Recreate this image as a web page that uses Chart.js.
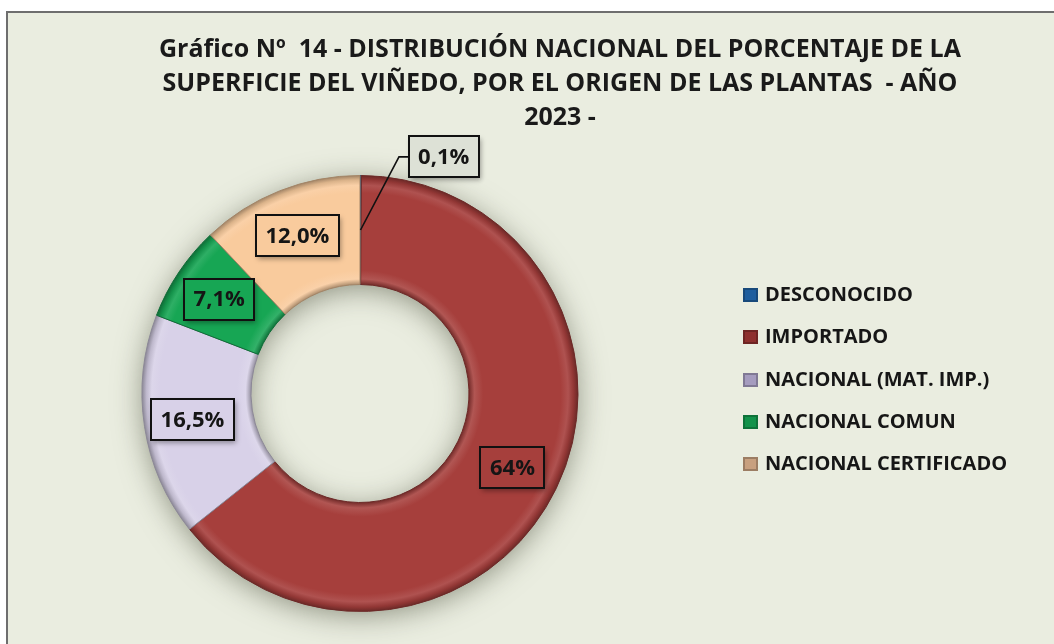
<!DOCTYPE html>
<html lang="es">
<head>
<meta charset="utf-8">
<title>Gráfico Nº 14 - Origen de las plantas 2023</title>
<script src="https://cdn.jsdelivr.net/npm/chart.js@4.4.1/dist/chart.umd.min.js"></script>
<style>
  html, body { margin: 0; padding: 0; background: #ffffff; }
  body { width: 1054px; height: 644px; overflow: hidden; position: relative; font-family: "Open Sans", sans-serif; }
  #marco {
    position: absolute; left: 6px; top: 11px; width: 1100px; height: 700px;
    border-left: 2px solid #6e6e6e; border-top: 2px solid #6e6e6e;
    background: #eaede0;
  }
  #grafico { position: absolute; left: 0; top: 0; }
  #leyenda { position: absolute; left: 743px; top: 273px; }
  #leyenda .fila { height: 42.3px; line-height: 42px; white-space: nowrap; font-weight: 700; font-size: 20px; color: #161616; }
  #leyenda .caja {
    display: inline-block; width: 15px; height: 14px; margin-right: 7px; vertical-align: -1px;
    box-shadow: inset 0 0 0 2px rgba(0, 0, 0, 0.22);
  }
</style>
</head>
<body>
<div id="marco"></div>
<canvas id="grafico" width="1120" height="644"></canvas>
<div id="leyenda"></div>
<script>
  const categorias = ['DESCONOCIDO', 'IMPORTADO', 'NACIONAL (MAT. IMP.)', 'NACIONAL COMUN', 'NACIONAL CERTIFICADO'];
  const porcentajes = [0.1, 64, 16.5, 7.1, 12.0];
  const etiquetas = ['0,1%', '64%', '16,5%', '7,1%', '12,0%'];
  const colores = ['#2166ac', '#a63f3c', '#d8d1e8', '#17a654', '#f9cb9d'];
  const coloresLeyenda = ['#1f5e9e', '#8e302e', '#a59cbf', '#12924a', '#c8a07f'];
  const titulo = [
    'Gráfico Nº  14 - DISTRIBUCIÓN NACIONAL DEL PORCENTAJE DE LA',
    'SUPERFICIE DEL VIÑEDO, POR EL ORIGEN DE LAS PLANTAS  - AÑO',
    '2023 -'
  ];

  // aclara (+) u oscurece (-) un color hex
  function tono(hex, p) {
    const n = parseInt(hex.slice(1), 16);
    let r = n >> 16, g = (n >> 8) & 255, b = n & 255;
    const f = c => Math.round(p < 0 ? c * (1 + p) : c + (255 - c) * p);
    return 'rgb(' + f(r) + ',' + f(g) + ',' + f(b) + ')';
  }

  // relleno con un poco de bisel, de dentro hacia fuera del anillo
  function relleno(ctx) {
    const chart = ctx.chart;
    const base = colores[ctx.dataIndex];
    const ctrl = chart.getDatasetMeta(0).controller;
    const area = chart.chartArea;
    if (!area || !ctrl || !ctrl.outerRadius) return base;
    const cx = (area.left + area.right) / 2, cy = (area.top + area.bottom) / 2;
    const g = chart.ctx.createRadialGradient(cx, cy, ctrl.innerRadius, cx, cy, ctrl.outerRadius);
    g.addColorStop(0, tono(base, -0.3));
    g.addColorStop(0.05, tono(base, 0.12));
    g.addColorStop(0.13, base);
    g.addColorStop(0.84, base);
    g.addColorStop(0.91, tono(base, 0.1));
    g.addColorStop(0.96, tono(base, -0.12));
    g.addColorStop(1, tono(base, -0.35));
    return g;
  }

  // caja vacia a la derecha: deja sitio para la leyenda sin mover el titulo
  const pluginHueco = {
    id: 'hueco',
    beforeInit(chart) {
      Chart.layouts.addBox(chart, {
        position: 'right', weight: 0, fullSize: false, options: {},
        isHorizontal() { return false; },
        update(maxWidth, maxHeight) { this.width = 400; this.height = maxHeight; },
        draw() {}
      });
    }
  };

  const pluginSombra = {
    id: 'sombra',
    beforeDatasetsDraw(chart) {
      const arc = chart.getDatasetMeta(0).data[0];
      if (!arc) return;
      const p = arc.getProps(['x', 'y', 'innerRadius', 'outerRadius'], true);
      const ctx = chart.ctx;
      ctx.save();
      ctx.shadowColor = 'rgba(70, 75, 55, 0.6)';
      ctx.shadowBlur = 30;
      ctx.shadowOffsetY = 5;
      ctx.fillStyle = '#9a9a9a';
      ctx.beginPath();
      ctx.arc(p.x, p.y, p.outerRadius - 2, 0, Math.PI * 2);
      ctx.arc(p.x, p.y, p.innerRadius + 2, 0, Math.PI * 2, true);
      ctx.fill('evenodd');
      ctx.restore();
    }
  };

  const pluginEtiquetas = {
    id: 'etiquetas',
    afterDatasetsDraw(chart) {
      const ctx = chart.ctx;
      const meta = chart.getDatasetMeta(0);
      ctx.save();
      ctx.font = 'bold 22px "Open Sans"';
      ctx.textAlign = 'center';
      ctx.textBaseline = 'middle';
      meta.data.forEach((arc, i) => {
        const p = arc.getProps(['x', 'y', 'startAngle', 'endAngle', 'innerRadius', 'outerRadius'], true);
        const medio = (p.startAngle + p.endAngle) / 2;
        const rMedio = (p.innerRadius + p.outerRadius) / 2;
        const pequeno = porcentajes[i] < 1;
        const ang = pequeno ? medio + 0.337 : medio;
        const r = pequeno ? p.outerRadius + 33 : rMedio + 6;
        const cx = p.x + Math.cos(ang) * r;
        const cy = p.y + Math.sin(ang) * r;
        const texto = etiquetas[i];
        const w = Math.round(ctx.measureText(texto).width + 19);
        const h = 41;
        const x0 = Math.round(cx - w / 2), y0 = Math.round(cy - h / 2);
        if (pequeno) {
          ctx.strokeStyle = '#111';
          ctx.lineWidth = 1.6;
          ctx.beginPath();
          ctx.moveTo(p.x + Math.cos(medio) * rMedio, p.y + Math.sin(medio) * rMedio);
          ctx.lineTo(x0 - 10, cy);
          ctx.lineTo(x0, cy);
          ctx.stroke();
        }
        ctx.save();
        ctx.shadowColor = 'rgba(0, 0, 0, 0.35)';
        ctx.shadowBlur = 5;
        ctx.shadowOffsetX = 2;
        ctx.shadowOffsetY = 3;
        ctx.fillStyle = pequeno ? '#dde1d6' : colores[i];
        ctx.fillRect(x0, y0, w, h);
        ctx.restore();
        ctx.strokeStyle = '#111';
        ctx.lineWidth = 2;
        ctx.strokeRect(x0, y0, w, h);
        ctx.fillStyle = '#151515';
        ctx.fillText(texto, cx, cy + 1);
      });
      ctx.restore();
    }
  };

  const grafico = new Chart(document.getElementById('grafico'), {
    type: 'doughnut',
    data: {
      labels: categorias,
      datasets: [{
        data: porcentajes,
        backgroundColor: relleno,
        borderColor: colores.map(c => tono(c, -0.35)),
        borderWidth: 1,
        hoverOffset: 0
      }]
    },
    options: {
      responsive: false,
      animation: false,
      cutout: '50%',
      layout: { padding: { left: 0, right: 0, top: 0, bottom: 32 } },
      plugins: {
        legend: { display: false },
        tooltip: { enabled: false },
        title: {
          display: true,
          text: titulo,
          color: '#1a1a1a',
          font: { family: 'Open Sans', size: 25, weight: 'bold', lineHeight: 1.36 },
          padding: { top: 33, bottom: 40 }
        }
      }
    },
    plugins: [pluginHueco, pluginSombra, pluginEtiquetas]
  });

  // leyenda con los mismos nombres y colores
  const leyenda = document.getElementById('leyenda');
  categorias.forEach((nombre, i) => {
    const fila = document.createElement('div');
    fila.className = 'fila';
    const caja = document.createElement('span');
    caja.className = 'caja';
    caja.style.background = coloresLeyenda[i];
    fila.appendChild(caja);
    fila.appendChild(document.createTextNode(nombre));
    leyenda.appendChild(fila);
  });
</script>
</body>
</html>
